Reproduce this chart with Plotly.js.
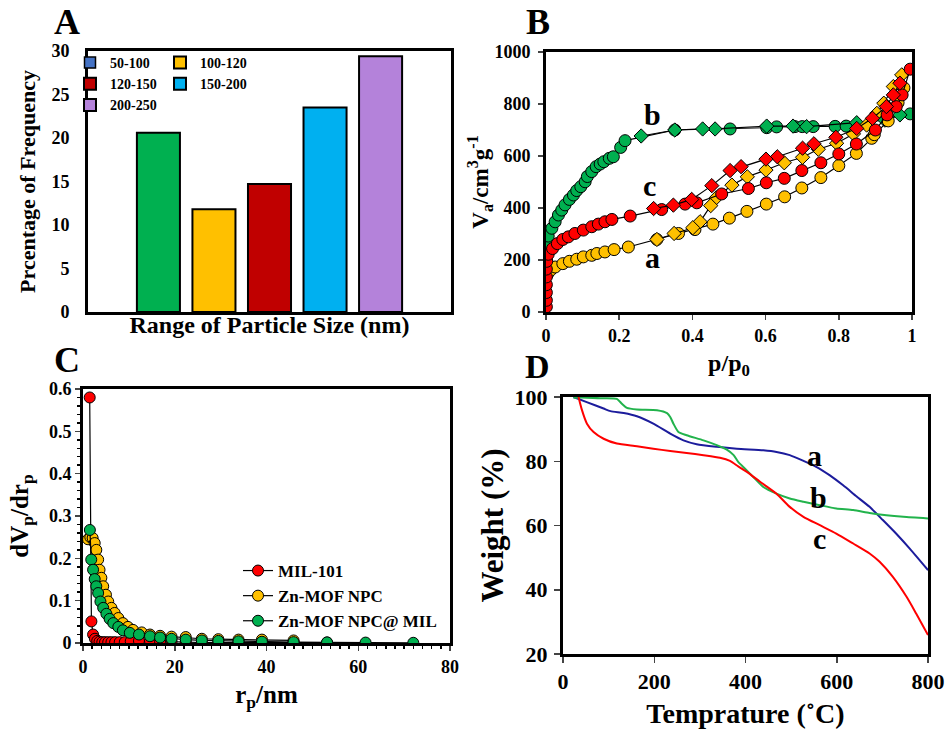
<!DOCTYPE html>
<html>
<head>
<meta charset="utf-8">
<script src="https://cdn.plot.ly/plotly-3.0.1.min.js"></script>
<style>html,body{margin:0;padding:0;background:#fff;}#chart{width:945px;height:731px;}</style>
</head>
<body>
<div id="chart"></div>
<script>
// ---------- Panel A: particle size distribution ----------
const sizeRanges = ["50-100", "100-120", "120-150", "150-200", "200-250"];
const freqPct = [20.6, 11.8, 14.7, 23.5, 29.4];
const barColors = ["#00B050", "#FFC000", "#C00000", "#00B0F0", "#B482DA"];
const legendSwatch50 = "#4472C4";
const sizeCategory = ["Particle size"];

// ---------- Panel B: N2 isotherms (p/p0 vs Va) ----------
const aAdsP = [0.004, 0.012, 0.025, 0.046, 0.064, 0.084, 0.102, 0.125, 0.139, 0.161, 0.186, 0.225, 0.303, 0.362, 0.407, 0.456, 0.501, 0.549, 0.602, 0.652, 0.699, 0.751, 0.8, 0.848, 0.89, 0.897, 0.935, 0.962, 0.978];
const aAdsV = [145, 160, 173, 186, 195, 203, 212, 218, 225, 231, 240, 250, 279, 302, 317, 338, 361, 387, 415, 443, 477, 517, 563, 610, 668, 682, 735, 805, 862];
const aDesP = [0.972, 0.949, 0.923, 0.904, 0.876, 0.84, 0.794, 0.744, 0.701, 0.651, 0.601, 0.55, 0.508, 0.465, 0.45, 0.421, 0.401, 0.35, 0.303];
const aDesV = [912, 867, 803, 764, 719, 685, 649, 626, 595, 574, 546, 520, 488, 439, 409, 347, 324, 302, 279];

const bAdsP = [0.001, 0.003, 0.006, 0.016, 0.025, 0.034, 0.043, 0.052, 0.064, 0.075, 0.084, 0.095, 0.107, 0.113, 0.125, 0.137, 0.148, 0.158, 0.173, 0.184, 0.204, 0.216, 0.352, 0.503, 0.603, 0.63, 0.68, 0.7, 0.73, 0.79, 0.82, 0.995];
const bAdsV = [212, 263, 292, 322, 347, 373, 392, 412, 433, 450, 467, 482, 501, 521, 540, 559, 569, 578, 591, 597, 633, 659, 700, 704, 709, 712, 713, 713, 713, 714, 715, 762];
const bDesP = [0.967, 0.926, 0.849, 0.712, 0.675, 0.603, 0.462, 0.428, 0.352, 0.26];
const bDesV = [758, 738, 728, 713, 715, 715, 704, 704, 700, 677];

const cAdsP = [0.001, 0.001, 0.001, 0.001, 0.001, 0.001, 0.002, 0.006, 0.018, 0.031, 0.046, 0.061, 0.079, 0.102, 0.125, 0.143, 0.161, 0.18, 0.23, 0.316, 0.38, 0.412, 0.48, 0.553, 0.602, 0.651, 0.699, 0.751, 0.8, 0.848, 0.9, 0.932, 0.957, 0.973, 0.995];
const cAdsV = [20, 45, 75, 105, 135, 165, 195, 222, 244, 263, 279, 289, 302, 315, 328, 338, 347, 356, 369, 394, 415, 420, 454, 475, 497, 514, 544, 574, 608, 646, 700, 758, 790, 835, 934];
const cDesP = [0.967, 0.949, 0.93, 0.892, 0.849, 0.792, 0.732, 0.701, 0.632, 0.601, 0.533, 0.503, 0.453, 0.398, 0.348, 0.294];
const cDesV = [880, 835, 790, 745, 706, 672, 647, 630, 597, 588, 559, 544, 486, 433, 411, 398];

// ---------- Panel C: pore size distribution ----------
const milR = [1.46, 1.83, 2.2, 2.6, 3.1, 3.6, 4.2, 4.8, 5.5, 6.2, 7.0, 8.0, 9.1, 10.4, 12.2, 14.6, 16.8, 19.3, 22.4, 25.9, 29.5, 33.9, 39.0, 45.9, 53.2];
const milD = [0.58, 0.051, 0.02, 0.01, 0.005, 0.003, 0.002, 0.002, 0.002, 0.002, 0.002, 0.002, 0.002, 0.004, 0.005, 0.005, 0.004, 0.003, 0.002, 0.001, 0.001, 0.001, 0.001, 0.001, 0.001];
const znR = [1.1, 1.6, 2.1, 2.55, 2.9, 3.3, 3.6, 4.0, 4.4, 5.0, 5.5, 6.2, 6.9, 7.7, 8.7, 9.8, 10.9, 12.8, 14.6, 16.8, 19.3, 22.4, 25.9, 29.5, 33.9, 39.0, 45.9];
const znD = [0.245, 0.25, 0.248, 0.236, 0.22, 0.197, 0.173, 0.154, 0.134, 0.114, 0.098, 0.083, 0.071, 0.059, 0.047, 0.038, 0.031, 0.025, 0.02, 0.017, 0.015, 0.014, 0.01, 0.009, 0.008, 0.008, 0.006];
const zmR = [1.5, 1.8, 2.2, 2.55, 2.9, 3.3, 3.8, 4.4, 5.1, 5.8, 6.6, 7.7, 8.7, 10.2, 12.2, 14.6, 16.8, 19.3, 22.4, 25.9, 29.5, 33.9, 39.0, 45.9, 53.2, 61.6, 72.0];
const zmD = [0.267, 0.197, 0.173, 0.151, 0.134, 0.118, 0.098, 0.083, 0.069, 0.057, 0.047, 0.038, 0.03, 0.024, 0.02, 0.016, 0.013, 0.01, 0.008, 0.006, 0.005, 0.004, 0.003, 0.002, 0.0015, 0.001, 0.0005];
const seriesNames = ["MIL-101", "Zn-MOF NPC", "Zn-MOF NPC@ MIL"];

// ---------- Panel D: TGA ----------
const tA = [23, 52, 89, 104, 133, 162, 198, 235, 264, 293, 337, 381, 439, 468, 497, 527, 556, 585, 614, 643, 672, 701, 730, 760, 800];
const wA = [100, 98.4, 96.4, 95.6, 95, 94, 91.7, 88.6, 86.5, 85.3, 84.5, 83.9, 83.4, 82.9, 81.9, 80.1, 78.2, 75.6, 72.5, 69.1, 65.8, 61.7, 57.5, 52.8, 46.1];
const tB = [23, 52, 89, 118, 129, 140, 162, 206, 228, 235, 242, 253, 271, 308, 337, 359, 374, 384, 399, 417, 439, 468, 497, 527, 563, 599, 636, 672, 709, 746, 800];
const wB = [99.8, 99.8, 99.6, 99.4, 97.9, 96.6, 96.1, 95.9, 95, 93.8, 91.7, 89.1, 88.1, 86.5, 85, 83.6, 81.9, 79.8, 77.7, 75.1, 72, 69.9, 68.4, 67.4, 66.3, 65.3, 64.8, 63.9, 63.2, 62.7, 62.2];
const tC = [34, 41.6, 52.5, 67, 89, 118, 162, 198, 235, 271, 308, 344, 366, 384, 403, 432, 468, 497, 527, 563, 599, 636, 672, 694, 723, 753, 774, 800];
const wC = [100, 95.9, 91.7, 89.1, 87, 85.5, 84.7, 83.9, 83.2, 82.6, 81.9, 81.1, 80.1, 78.4, 76.7, 73.6, 69.9, 65.8, 62.7, 60.1, 57.5, 54.4, 51.3, 48.7, 44, 37.8, 32.6, 25.9];

// ---------- styling ----------
const F = "Liberation Serif, Times New Roman, Times, serif";
const fnt = (s) => ({family: F, size: s, color: "#000", weight: "bold"});
const W = 945, H = 731;
const dx = (a, b) => [a / W, b / W];
const dy = (top, bottom) => [1 - bottom / H, 1 - top / H];
const frame = {showline: true, linecolor: "#000", linewidth: 3, mirror: true, showgrid: false, zeroline: false, automargin: false, fixedrange: true};

const traces = [];
// Panel A
traces.push({type: "scatter", mode: "markers", x: [null], y: [null], xaxis: "x", yaxis: "y",
  name: sizeRanges[0], legend: "legend", hoverinfo: "skip",
  marker: {symbol: "square", size: 11, color: legendSwatch50, line: {color: "#000", width: 1.5}}});
sizeRanges.forEach((r, i) => {
  traces.push({type: "bar", x: sizeCategory, y: [freqPct[i]], name: r, xaxis: "x", yaxis: "y",
    marker: {color: barColors[i], line: {color: "#000", width: 2}},
    showlegend: i !== 0, legend: (i % 2 === 0) ? "legend" : "legend2"});
});
// Panel B
const iso = (x, y, col, sym, sz) => ({type: "scatter", mode: "lines+markers", x: x, y: y, xaxis: "x2", yaxis: "y2",
  showlegend: false, line: {color: "#000", width: 1.2},
  marker: {symbol: sym, size: sz, color: col, line: {color: "#000", width: 1}}});
traces.push(iso(bAdsP, bAdsV, "#00B050", "circle", 12));
traces.push(iso(bDesP, bDesV, "#00B050", "diamond", 11));
traces.push(iso(aAdsP, aAdsV, "#FFC000", "circle", 12));
traces.push(iso(aDesP, aDesV, "#FFC000", "diamond", 11));
traces.push(iso(cAdsP, cAdsV, "#FF0000", "circle", 12));
traces.push(iso(cDesP, cDesV, "#FF0000", "diamond", 11));
// Panel C
const psd = (x, y, col, nm) => ({type: "scatter", mode: "lines+markers", x: x, y: y, xaxis: "x3", yaxis: "y3",
  name: nm, legend: "legend3", line: {color: "#000", width: 1.2},
  marker: {symbol: "circle", size: 11, color: col, line: {color: "#000", width: 1}}});
traces.push(psd(milR, milD, "#FF0000", seriesNames[0]));
traces.push(psd(znR, znD, "#FFC000", seriesNames[1]));
traces.push(psd(zmR, zmD, "#00B050", seriesNames[2]));
// Panel D
const tga = (x, y, col, nm) => ({type: "scatter", mode: "lines", x: x, y: y, xaxis: "x4", yaxis: "y4",
  name: nm, showlegend: false, line: {color: col, width: 2, shape: "spline", smoothing: 0.6}});
traces.push(tga(tA, wA, "#1C1C9C", "a"));
traces.push(tga(tB, wB, "#22B34C", "b"));
traces.push(tga(tC, wC, "#FF0000", "c"));

const lab = (t, x, y, s) => ({text: t, xref: "paper", yref: "paper", x: x / W, y: 1 - y / H,
  xanchor: "center", yanchor: "middle", showarrow: false, font: fnt(s)});
const dlab = (t, xr, yr, x, y) => ({text: t, xref: xr, yref: yr, x: x, y: y,
  xanchor: "center", yanchor: "middle", showarrow: false, font: fnt(30)});

const layout = {
  width: W, height: H, margin: {l: 0, r: 0, t: 0, b: 0},
  paper_bgcolor: "#fff", plot_bgcolor: "#fff",
  barmode: "group", bargap: 0.235, bargroupgap: 0.225,
  font: fnt(16),
  xaxis: Object.assign({}, frame, {domain: dx(88, 451), anchor: "y", type: "category", range: [-0.5, 0.5], showticklabels: false, ticks: "",
    title: {text: "Range of Particle Size (nm)", font: fnt(24), standoff: 3}}),
  yaxis: Object.assign({}, frame, {domain: dy(51, 312), anchor: "x", range: [0, 30], dtick: 5, ticks: "",
    ticklabelstandoff: 12, tickfont: fnt(18),
    title: {text: "Prcentage of Frequency", font: fnt(22), standoff: 10}}),
  xaxis2: Object.assign({}, frame, {domain: dx(546, 912), anchor: "y2", range: [0, 1], dtick: 0.2, ticks: "outside", ticklen: 5, tickwidth: 1.5,
    tickfont: fnt(18), title: {text: "p/p<sub>0</sub>", font: fnt(24), standoff: 10}}),
  yaxis2: Object.assign({}, frame, {domain: dy(52, 312), anchor: "x2", range: [0, 1000], dtick: 200, ticks: "outside", ticklen: 5, tickwidth: 1.5,
    tickfont: fnt(18), ticklabelstandoff: 4, title: {text: "V<sub>a</sub>/cm<sup>3</sup>g<sup>-1</sup>", font: fnt(23), standoff: 0}}),
  xaxis3: Object.assign({}, frame, {domain: dx(83, 450), anchor: "y3", range: [0, 80], dtick: 20, ticks: "outside", ticklen: 5, tickwidth: 1.5,
    minor: {dtick: 2, ticks: "outside", ticklen: 3, tickcolor: "#000"},
    tickfont: fnt(18), title: {text: "r<sub>p</sub>/nm", font: fnt(25), standoff: 10}}),
  yaxis3: Object.assign({}, frame, {domain: dy(389, 643), anchor: "x3", range: [0, 0.6], dtick: 0.1, ticks: "outside", ticklen: 5, tickwidth: 1.5,
    minor: {dtick: 0.02, ticks: "outside", ticklen: 3, tickcolor: "#000"},
    tickfont: fnt(18), title: {text: "dV<sub>p</sub>/dr<sub>p</sub>", font: fnt(25), standoff: 14}}),
  xaxis4: Object.assign({}, frame, {domain: dx(563, 928), anchor: "y4", range: [0, 800], dtick: 200, ticks: "outside", ticklen: 6, tickwidth: 1.5,
    tickfont: fnt(22), title: {text: "Temprature (˚C)", font: fnt(28), standoff: 10}}),
  yaxis4: Object.assign({}, frame, {domain: dy(397, 654), anchor: "x4", range: [20, 100], dtick: 20, ticks: "outside", ticklen: 6, tickwidth: 1.5,
    tickfont: fnt(22), ticklabelstandoff: 2, title: {text: "Weight (%)", font: fnt(31), standoff: 2}}),
  legend: {x: 70 / W, y: 1 - 47 / H, xanchor: "left", yanchor: "top", bgcolor: "rgba(0,0,0,0)", font: fnt(14), tracegroupgap: 0, itemclick: false},
  legend2: {x: 160 / W, y: 1 - 47 / H, xanchor: "left", yanchor: "top", bgcolor: "rgba(0,0,0,0)", font: fnt(14), tracegroupgap: 0, itemclick: false},
  legend3: {x: 238 / W, y: 1 - 553 / H, xanchor: "left", yanchor: "top", bgcolor: "rgba(0,0,0,0)", font: fnt(17), tracegroupgap: 0, itemclick: false},
  annotations: [
    lab("A", 67, 22, 36), lab("B", 538, 22, 36), lab("C", 67, 360, 36), lab("D", 537, 366, 34),
    dlab("b", "x2", "y2", 0.29, 758), dlab("c", "x2", "y2", 0.284, 488), dlab("a", "x2", "y2", 0.29, 208),
    dlab("a", "x4", "y4", 552, 81.9), dlab("b", "x4", "y4", 559, 68.8), dlab("c", "x4", "y4", 563, 56.1)
  ]
};

Plotly.newPlot("chart", traces, layout, {displayModeBar: false, staticPlot: true});
</script>
</body>
</html>
